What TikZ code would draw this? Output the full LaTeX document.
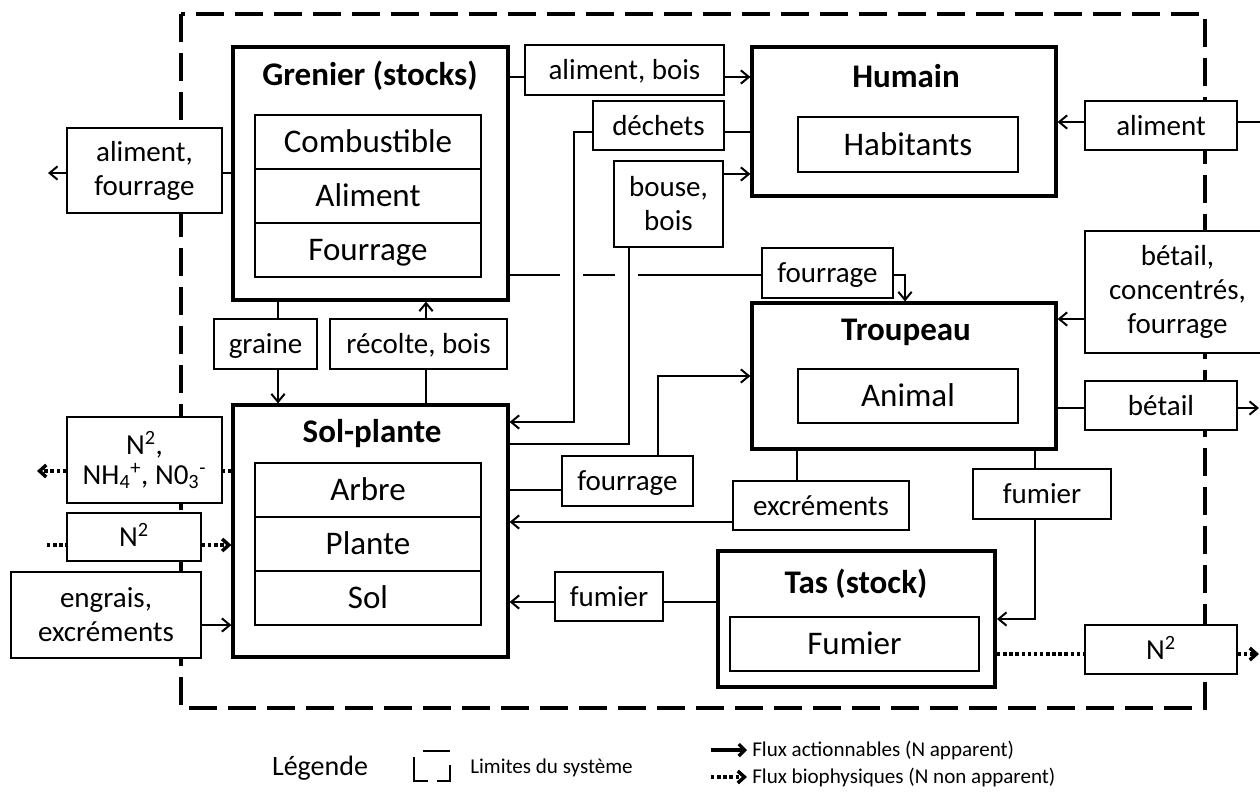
\documentclass[tikz,border=0pt]{standalone}
\usepackage{fontspec}
\setmainfont{Carlito}
\usetikzlibrary{arrows.meta}
\newcommand\mkbox[7]{%
  \pgfmathsetmacro\bxcx{(#3+#5)/2}%
  \pgfmathsetmacro\bxcy{(#4+#6)/2}%
  \pgfmathsetmacro\bxw{(#5-#3)*0.75}%
  \pgfmathsetmacro\bxh{(#6-#4)*0.75}%
  \node[#1, minimum width=\bxw pt, minimum height=\bxh pt] (#2) at (\bxcx,\bxcy) {#7};}
\begin{document}
\begin{tikzpicture}[x=0.75pt,y=-0.75pt,
  bigbox/.style={draw, line width=2.4pt, fill=white, inner sep=0pt},
  tasbox/.style={draw, line width=3pt, fill=white, inner sep=0pt},
  cell/.style={draw, line width=1.2pt, inner sep=0pt, font=\fontsize{24.75}{28}\selectfont, text height=20.3pt, text depth=4.5pt},
  lbl/.style={draw, line width=1.2pt, fill=white, inner sep=0pt, align=center, font=\fontsize{21.75}{25.5}\selectfont},
  lblsm/.style={lbl, font=\fontsize{21.75}{23}\selectfont},
  lblone/.style={lbl, text height=18.3pt, text depth=3.5pt},
  ttl/.style={inner sep=0pt, font=\fontsize{24.75}{28}\selectfont\bfseries},
  link/.style={line width=1.5pt},
  flow/.style={line width=1.5pt, -{Straight Barb[length=6pt,width=10pt]}},
  bio/.style={line width=2.6pt, dash pattern=on 2.6pt off 2pt},
  bioarr/.style={bio, -{Straight Barb[length=5pt,width=9pt]}},
  boundary/.style={line width=2.4pt, dash pattern=on 21pt off 8.25pt},
  legtxt/.style={anchor=west, inner sep=0pt, font=\fontsize{15.8}{18}\selectfont}
]
\useasboundingbox (0,0) rectangle (1260,793);
\fill[white] (0,0) rectangle (1260,793);

% system boundary
\draw[boundary] (181,14) rectangle (1205,708);

% Grenier
\mkbox{bigbox}{gren}{233}{47}{508}{300}{}
\node[ttl] (grenT) at (370,76) {Grenier (stocks)};
\mkbox{cell}{comb}{255}{115}{481}{169}{Combustible}
\mkbox{cell}{alim}{255}{169}{481}{223}{Aliment}
\mkbox{cell}{four}{255}{223}{481}{277}{Fourrage}

% Humain
\mkbox{bigbox}{hum}{752}{47}{1056}{196}{}
\node[ttl] (humT) at (906,76) {Humain};
\mkbox{cell}{hab}{798}{117}{1018}{172}{Habitants}

% Troupeau
\mkbox{bigbox}{trou}{752}{303}{1056}{449}{}
\node[ttl] (trouT) at (906,332) {Troupeau};
\mkbox{cell}{anim}{798}{369}{1018}{423}{Animal}

% Sol-plante
\mkbox{bigbox}{sol}{233}{405}{508}{657}{}
\node[ttl] (solT) at (372,434) {Sol-plante};
\mkbox{cell}{arb}{255}{463}{481}{517}{Arbre}
\mkbox{cell}{pla}{255}{517}{481}{571}{Plante}
\mkbox{cell}{sl}{255}{571}{481}{625}{Sol}

% Tas
\mkbox{tasbox}{tas}{718}{551}{995}{687}{}
\node[ttl] (tasT) at (856,584) {Tas (stock)};
\mkbox{cell}{fum}{730}{617}{979}{671}{Fumier}

% label boxes
\mkbox{lbl}{af}{67}{128}{222}{213}{aliment,\\fourrage}
\mkbox{lblone}{ab}{525}{45}{724}{95}{aliment, bois}
\mkbox{lblone}{dech}{593}{101}{724}{150}{déchets}
\mkbox{lbl}{bb}{614}{161}{723}{247}{bouse,\\bois}
\mkbox{lblone}{fa}{762}{248}{893}{298}{fourrage}
\mkbox{lblone}{gr}{214}{319}{317}{369}{graine}
\mkbox{lblone}{rb}{330}{319}{507}{369}{récolte, bois}
\mkbox{lblone}{fb}{562}{456}{693}{506}{fourrage}
\mkbox{lblone}{exc}{733}{481}{909}{530}{excréments}
\mkbox{lblone}{fua}{973}{469}{1111}{519}{fumier}
\mkbox{lblone}{fub}{555}{572}{663}{621}{fumier}
\mkbox{lblone}{al}{1085}{101}{1237}{150}{aliment}
\mkbox{lbl}{bcf}{1085}{231}{1270}{353}{bétail,\\concentrés,\\fourrage}
\mkbox{lblone}{bet}{1085}{381}{1237}{430}{bétail}
\mkbox{lblone}{nr}{1085}{625}{1237}{674}{N\textsuperscript{2}}
\mkbox{lblsm}{nnn}{67}{417}{222}{503}{N\textsuperscript{2},\\NH\textsubscript{4}\textsuperscript{+}, N0\textsubscript{3}\textsuperscript{-}}
\mkbox{lblone}{nl}{67}{513}{201}{561}{N\textsuperscript{2}}
\mkbox{lbl}{eng}{11}{572}{201}{658}{engrais,\\excréments}

% free ends
\coordinate (afout) at (48,173);
\coordinate (alin) at (1262,122);
\coordinate (betout) at (1259,408);
\coordinate (nrout) at (1259,654);
\coordinate (nnnout) at (37,471);
\coordinate (nlin) at (47,545);

% connectors
\draw[link] (gren.west |- 0,173) -- (af.east |- 0,173);
\draw[flow] (af.west |- 0,173) -- (afout);

\draw[link] (gren.east |- 0,77) -- (ab.west |- 0,77);
\draw[flow] (ab.east |- 0,77) -- (hum.west |- 0,77);

\draw[link] (hum.west |- 0,132) -- (dech.east |- 0,132);
\draw[flow] (dech.west |- 0,132) -- (574,132) -- (574,422) -- (sol.east |- 0,422);

\draw[link] (sol.east |- 0,444) -- (629,444) -- (629,0 |- bb.south);
\draw[flow] (bb.east |- 0,174) -- (hum.west |- 0,174);

\draw[link] (gren.east |- 0,275) -- (560,275);
\draw[link] (583,275) -- (615,275);
\draw[link] (638,275) -- (fa.west |- 0,275);
\draw[flow] (fa.east |- 0,275) -- (905,275) -- (905,0 |- trou.north);

\draw[link] (278,0 |- gren.south) -- (278,0 |- gr.north);
\draw[flow] (278,0 |- gr.south) -- (278,0 |- sol.north);

\draw[link] (426,0 |- sol.north) -- (426,0 |- rb.south);
\draw[flow] (426,0 |- rb.north) -- (426,0 |- gren.south);

\draw[link] (sol.east |- 0,490) -- (fb.west |- 0,490);
\draw[flow] (658,0 |- fb.north) -- (658,376) -- (trou.west |- 0,376);

\draw[link] (797,0 |- trou.south) -- (797,0 |- exc.north);
\draw[flow] (exc.west |- 0,522) -- (sol.east |- 0,522);

\draw[link] (1035,0 |- trou.south) -- (1035,0 |- fua.north);
\draw[flow] (1035,0 |- fua.south) -- (1035,619) -- (tas.east |- 0,619);

\draw[link] (tas.west |- 0,602) -- (fub.east |- 0,602);
\draw[flow] (fub.west |- 0,602) -- (sol.east |- 0,602);

\draw[link] (alin) -- (al.east |- 0,122);
\draw[flow] (al.west |- 0,122) -- (hum.east |- 0,122);

\draw[flow] (bcf.west |- 0,319) -- (trou.east |- 0,319);

\draw[link] (trou.east |- 0,408) -- (bet.west |- 0,408);
\draw[flow] (bet.east |- 0,408) -- (betout);

\draw[bio] (tas.east |- 0,654) -- (nr.west |- 0,654);
\draw[bioarr] (nr.east |- 0,654) -- (nrout);

\draw[bio] (sol.west |- 0,471) -- (nnn.east |- 0,471);
\draw[bioarr] (nnn.west |- 0,471) -- (nnnout);

\draw[bio] (nlin) -- (nl.west |- 0,545);
\draw[bioarr] (nl.east |- 0,545) -- (sol.west |- 0,545);

\draw[flow] (eng.east |- 0,625) -- (sol.west |- 0,625);

% legend
\node[inner sep=0pt, font=\fontsize{21}{24}\selectfont] (leg) at (320,768) {Légende};
\draw[line width=2.2pt] (414,757) -- (414,781) -- (428,781);
\draw[line width=2.2pt] (423,751) -- (450,751);
\draw[line width=2.2pt] (450,765) -- (450,781) -- (437,781);
\node[legtxt] (limtxt) at (470,768) {Limites du système};
\coordinate (la1) at (711,750);
\coordinate (lb1) at (747,750);
\draw[line width=2.4pt, -{Straight Barb[length=4.5pt,width=9pt]}] (la1) -- (lb1);
\node[legtxt] (fluxa) at (752,750) {Flux actionnables (N apparent)};
\coordinate (la2) at (711,777);
\coordinate (lb2) at (747,777);
\draw[bioarr] (la2) -- (lb2);
\node[legtxt] (fluxb) at (752,777) {Flux biophysiques (N non apparent)};
\end{tikzpicture}
\end{document}
